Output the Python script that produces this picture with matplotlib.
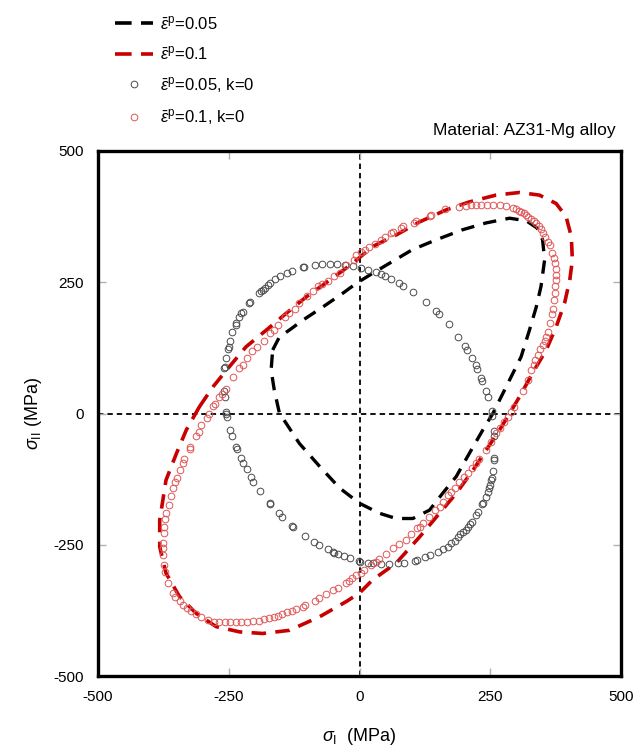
import matplotlib
matplotlib.use("Agg")
import matplotlib.pyplot as plt
from matplotlib.lines import Line2D

plt.rcParams['font.family'] = ['Liberation Sans', 'DejaVu Sans']
plt.rcParams['mathtext.fontset'] = 'custom'
plt.rcParams['mathtext.rm'] = 'Liberation Sans'
plt.rcParams['mathtext.it'] = 'Liberation Sans:italic'
plt.rcParams['mathtext.bf'] = 'Liberation Sans:bold'
plt.rcParams['axes.unicode_minus'] = False

# yield locus, eps_p = 0.05 (dashed black)
s1_005 = [-166, -153, -134, -108, -70, -32, -6, 25, 57, 101, 147, 197, 242, 287, 319, 340, 350,
          354, 347, 338, 325, 309, 287, 268, 255, 236, 210, 185, 159, 134, 102, 70, 38, 0, -38,
          -76, -115, -140, -153, -163, -169]
s2_005 = [121, 146, 159, 178, 203, 229, 248, 267, 286, 312, 331, 350, 363, 372, 367, 353, 331,
          293, 242, 203, 159, 108, 64, 26, 0, -31, -76, -120, -152, -184, -200, -200, -190, -171,
          -142, -101, -57, -19, 0, 45, 83]

# yield locus, eps_p = 0.1 (dashed red)
s1_01 = [-306, -280, -249, -217, -178, -140, -102, -57, -13, 25, 70, 115, 166, 210, 261, 306,
         344, 376, 395, 405, 407, 402, 392, 376, 357, 331, 306, 287, 268, 242, 217, 185, 153,
         115, 70, 25, 0, -25, -76, -134, -185, -229, -274, -312, -344, -370, -382, -382, -370,
         -350, -331]
s2_01 = [13, 51, 89, 127, 159, 191, 222, 254, 286, 318, 340, 365, 388, 403, 416, 421, 416, 400,
         375, 337, 292, 254, 210, 165, 121, 77, 32, 0, -31, -70, -108, -152, -190, -235, -285,
         -317, -342, -358, -387, -413, -419, -416, -406, -381, -349, -304, -254, -203, -127,
         -76, -31]

# k = 0, eps_p = 0.05 (open grey circles)
s1_005k0 = [-254, -255, -255, -258, -259, -259, -258, -256, -252, -250, -247, -243, -237, -236,
            -231, -226, -223, -212, -209, -193, -188, -184, -180, -175, -171, -161, -152, -139,
            -129, -108, -107, -86, -71, -57, -43, -28, -13, 3, 16, 31, 41, 48, 61, 76, 84, 102,
            128, 147, 152, 171, 189, 201, 205, 216, 222, 225, 233, 235, 242, 246, 253, 254, 257,
            257, 258, 257, 255, 253, 252, 249, 247, 245, 242, 236, 235, 226, 223, 215, 212, 207,
            203, 198, 193, 188, 182, 175, 169, 159, 150, 134, 126, 110, 107, 86, 73, 57, 41, 25,
            16, 0, -1, -19, -29, -41, -48, -51, -61, -78, -87, -104, -128, -129, -148, -153,
            -171, -172, -191, -203, -207, -215, -222, -226, -235, -236, -243, -247]
s2_005k0 = [-6, -1, 3, 32, 42, 86, 89, 106, 122, 127, 139, 156, 169, 172, 184, 191, 194, 210,
            213, 230, 233, 235, 239, 245, 248, 256, 262, 267, 272, 279, 280, 283, 285, 285, 285,
            283, 281, 277, 273, 270, 266, 262, 256, 249, 242, 232, 213, 196, 190, 170, 146, 129,
            121, 105, 92, 84, 67, 62, 42, 31, 5, -5, -33, -43, -85, -89, -109, -122, -127, -136,
            -141, -149, -159, -171, -172, -187, -193, -206, -211, -216, -221, -225, -230, -235,
            -242, -247, -254, -259, -263, -270, -273, -279, -280, -284, -285, -287, -287, -285,
            -284, -282, -280, -276, -271, -268, -265, -263, -259, -250, -244, -233, -216, -214,
            -197, -190, -172, -171, -147, -130, -120, -106, -94, -85, -68, -63, -43, -31]

# k = 0, eps_p = 0.1 (open red circles)
s1_01k0 = [-303, -292, -288, -280, -277, -268, -262, -256, -242, -230, -223, -215, -205, -196,
           -182, -172, -164, -156, -143, -135, -124, -115, -101, -89, -80, -71, -61, -48, -38,
           -25, -11, -6, 2, 11, 19, 29, 41, 48, 61, 64, 80, 84, 105, 108, 134, 137, 164, 191,
           203, 214, 223, 233, 243, 255, 268, 280, 293, 300, 305, 309, 314, 319, 323, 328, 333,
           338, 343, 347, 350, 354, 360, 365, 368, 371, 373, 375, 375, 375, 374, 373, 371, 370,
           368, 365, 360, 357, 354, 350, 345, 341, 336, 333, 328, 322, 312, 296, 290, 284, 277,
           268, 261, 252, 242, 229, 222, 215, 207, 199, 191, 183, 175, 169, 159, 153, 145, 132,
           121, 115, 110, 99, 88, 75, 64, 51, 38, 31, 22, 8, 3, -6, -14, -20, -25, -42, -51,
           -64, -78, -86, -105, -108, -121, -129, -139, -148, -156, -164, -173, -182, -192,
           -204, -215, -226, -237, -247, -258, -269, -279, -290, -303, -312, -322, -330, -338,
           -344, -352, -357, -366, -371, -373, -376, -376, -376, -374, -373, -371, -370, -365,
           -360, -356, -352, -349, -343, -338, -335, -325, -324, -312, -307]
s2_01k0 = [-22, -9, 0, 14, 19, 32, 38, 47, 69, 87, 92, 105, 119, 127, 139, 154, 159, 169, 184,
           191, 200, 210, 223, 234, 242, 246, 253, 262, 267, 283, 292, 302, 308, 312, 318, 323,
           330, 337, 343, 346, 353, 357, 363, 367, 376, 378, 389, 394, 395, 397, 397, 398, 398,
           398, 397, 395, 391, 389, 386, 384, 381, 378, 375, 371, 367, 362, 357, 351, 344, 337,
           327, 321, 305, 296, 286, 275, 264, 254, 242, 229, 216, 200, 190, 172, 156, 146, 139,
           130, 122, 111, 101, 92, 83, 64, 42, 13, 3, -6, -16, -28, -38, -54, -70, -87, -95,
           -104, -113, -121, -130, -141, -149, -155, -168, -178, -184, -198, -209, -216, -219,
           -230, -240, -249, -257, -268, -278, -282, -289, -299, -303, -308, -314, -319, -322,
           -333, -337, -344, -352, -357, -365, -368, -373, -376, -379, -382, -386, -388, -390,
           -392, -395, -395, -398, -398, -398, -398, -398, -398, -397, -393, -388, -382, -376,
           -371, -365, -358, -350, -342, -322, -301, -289, -270, -257, -247, -227, -216, -200,
           -190, -174, -157, -141, -130, -123, -108, -95, -87, -68, -63, -43, -35]

ticks = [-500, -250, 0, 250, 500]
red = '#c80000'
grey_mk = '#4a4a4a'
red_mk = '#e05555'

fig = plt.figure(figsize=(6.38, 7.56), dpi=100)
ax = fig.add_axes([98 / 638, 80 / 756, 523 / 638, 525 / 756])

ax.axhline(0, color='black', lw=1.3, dashes=(3, 2.2), zorder=1)
ax.axvline(0, color='black', lw=1.3, dashes=(3, 2.2), zorder=1)

ax.plot(s1_005 + s1_005[:1], s2_005 + s2_005[:1], color='black', lw=2.4,
        dashes=(4.0, 2.8), zorder=3)
ax.plot(s1_01 + s1_01[:1], s2_01 + s2_01[:1], color=red, lw=2.6,
        dashes=(4.0, 2.6), zorder=3)
ax.plot(s1_005k0, s2_005k0, 'o', mfc='none', mec=grey_mk, mew=0.7, ms=4.8, ls='none', zorder=4)
ax.plot(s1_01k0, s2_01k0, 'o', mfc='none', mec=red_mk, mew=0.7, ms=4.8, ls='none', zorder=4)

ax.set_xlim(-500, 500)
ax.set_ylim(-500, 500)
ax.set_xticks(ticks)
ax.set_yticks(ticks)
ax.tick_params(direction='in', length=6, width=1, color='#b0b0b0', top=True, right=True,
               labelsize=11)
ax.tick_params(axis='x', pad=10)
ax.tick_params(axis='y', pad=10)
for sp in ax.spines.values():
    sp.set_linewidth(2.4)

ax.set_xlabel(r'$\sigma_{\rm I}$  (MPa)', fontsize=13, labelpad=16)
ax.set_ylabel(r'$\sigma_{\rm II}$ (MPa)', fontsize=13, labelpad=7)

ax.text(0.99, 1.025, 'Material: AZ31-Mg alloy', transform=ax.transAxes, ha='right',
        va='bottom', fontsize=12.5)

handles = [
    Line2D([], [], color='black', lw=2.6, dashes=(4.6, 2.6)),
    Line2D([], [], color=red, lw=2.6, dashes=(4.6, 2.6)),
    Line2D([], [], marker='o', mfc='none', mec=grey_mk, mew=0.7, ms=4.8, ls='none'),
    Line2D([], [], marker='o', mfc='none', mec=red_mk, mew=0.7, ms=4.8, ls='none'),
]
labels = [r'$\bar{\varepsilon}^{\rm p}$=0.05', r'$\bar{\varepsilon}^{\rm p}$=0.1',
          r'$\bar{\varepsilon}^{\rm p}$=0.05, k=0', r'$\bar{\varepsilon}^{\rm p}$=0.1, k=0']
fig.legend(handles, labels, loc='upper left', bbox_to_anchor=(115 / 638, 1 - 14 / 756),
           frameon=False, fontsize=12, handlelength=2.3, handletextpad=0.4,
           labelspacing=0.75, borderpad=0, borderaxespad=0)

fig.savefig('out.png', dpi=100)
